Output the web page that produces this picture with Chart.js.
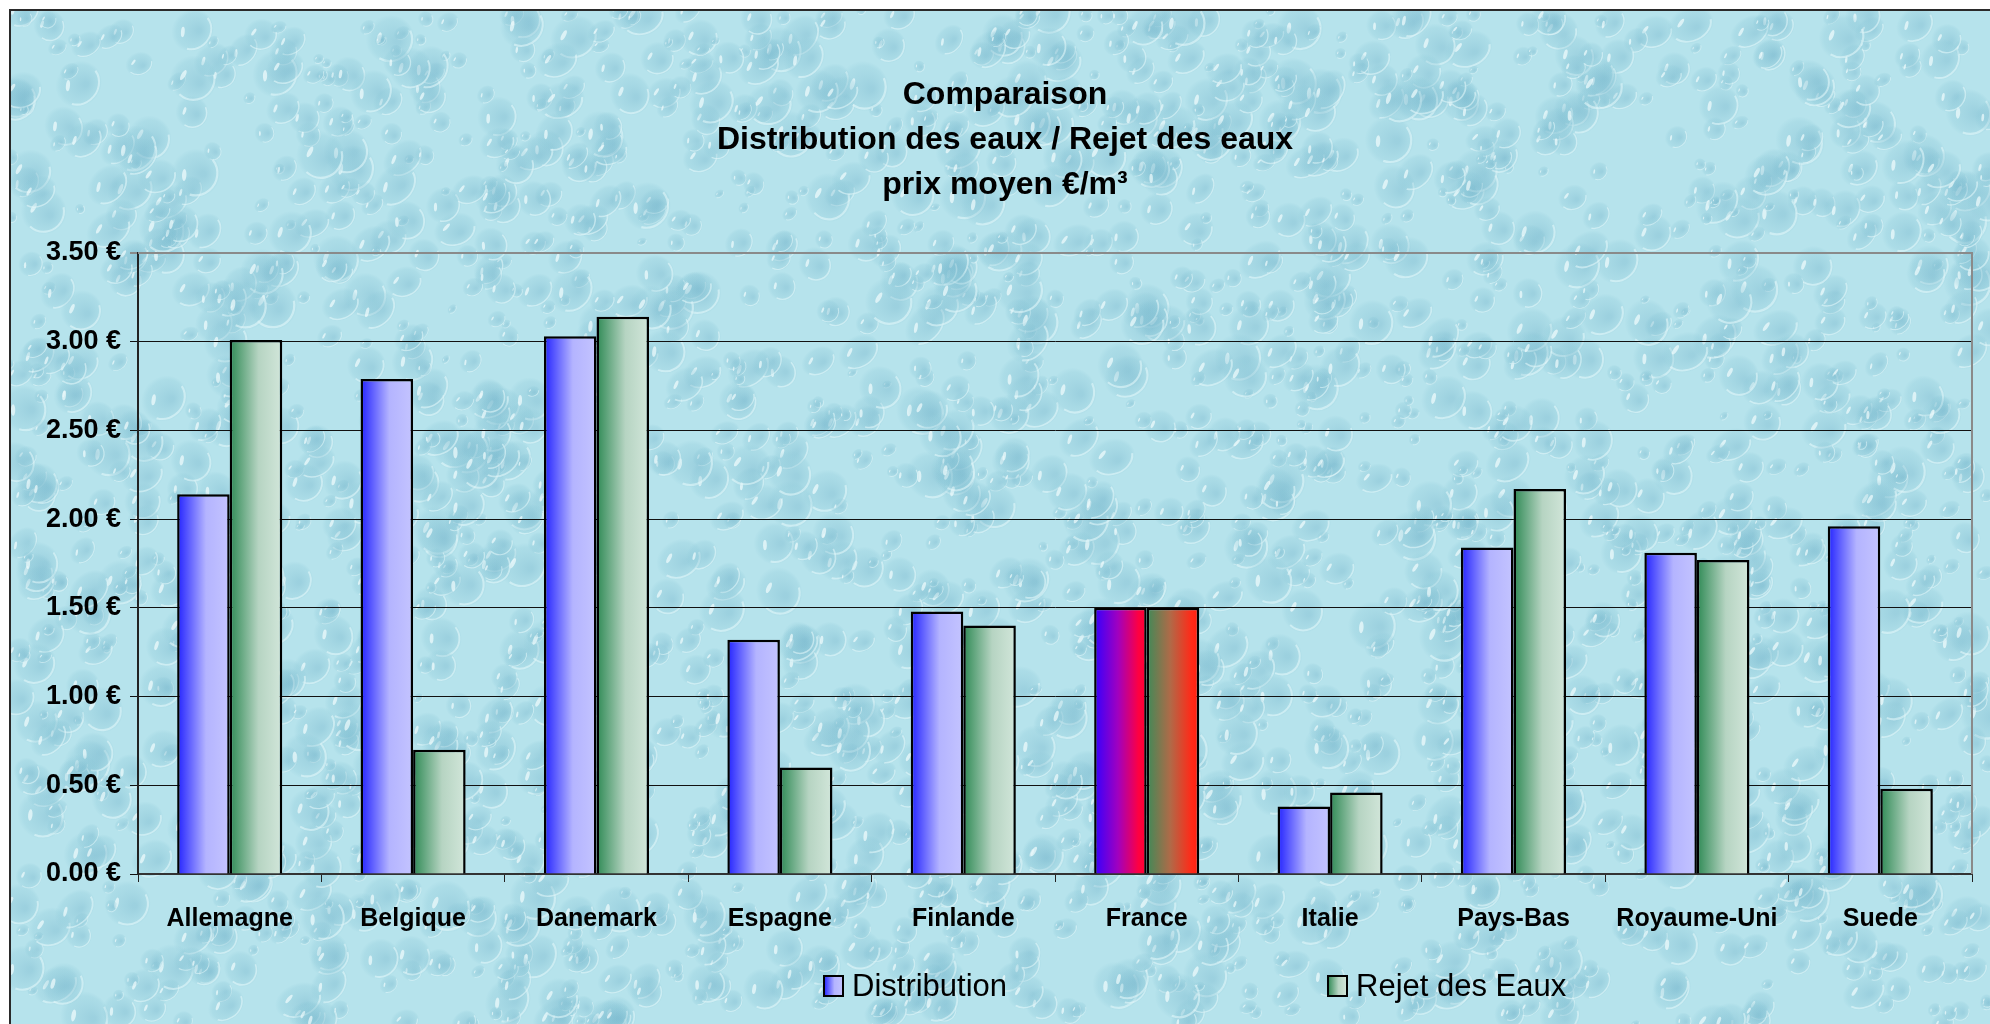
<!DOCTYPE html>
<html>
<head>
<meta charset="utf-8">
<script src="https://cdn.jsdelivr.net/npm/chart.js@4.4.1/dist/chart.umd.min.js"></script>
<style>
  html, body { margin: 0; padding: 0; background: #ffffff; }
  #wrap { position: relative; width: 1990px; height: 1024px; }
</style>
</head>
<body>
<div id="wrap"><canvas id="c" width="1990" height="1024"></canvas></div>
<script>
// ---- data ----
const categories = ['Allemagne', 'Belgique', 'Danemark', 'Espagne', 'Finlande', 'France', 'Italie', 'Pays-Bas', 'Royaume-Uni', 'Suede'];
const distribution = [2.14, 2.79, 3.03, 1.32, 1.48, 1.50, 0.38, 1.84, 1.81, 1.96];
const rejet = [3.01, 0.70, 3.14, 0.60, 1.40, 1.50, 0.46, 2.17, 1.77, 0.48];
const seriesNames = ['Distribution', 'Rejet des Eaux'];
const yTickLabels = ['0.00 €', '0.50 €', '1.00 €', '1.50 €', '2.00 €', '2.50 €', '3.00 €', '3.50 €'];
const titleLines = ['Comparaison', 'Distribution des eaux / Rejet des eaux', 'prix moyen €/m³'];
const highlightCategory = 'France';

// ---- styles ----
const CAT_PCT = 0.573;
const FONT = "'Liberation Sans', Arial, sans-serif";
const gradStops = [
  [[0, '#2323ff'], [0.55, '#b4b4ff'], [1, '#c4c4ff']],
  [[0, '#2f8a55'], [0.55, '#b6d4c2'], [1, '#d2e6da']]
];
const highlightStops = [
  [[0, '#3300ff'], [0.45, '#a000c0'], [0.85, '#ff0040'], [1, '#ff0030']],
  [[0, '#3f8a58'], [0.45, '#b06a48'], [0.85, '#ff2a18'], [1, '#ff2010']]
];

function barFill(ctx) {
  const chart = ctx.chart;
  const xs = chart.scales.x;
  const di = ctx.datasetIndex;
  let stops = gradStops[di];
  if (ctx.dataIndex !== undefined && categories[ctx.dataIndex] === highlightCategory) stops = highlightStops[di];
  if (!xs || ctx.dataIndex === undefined || !isFinite(xs.width)) return stops[1][1];
  const center = xs.getPixelForValue(ctx.dataIndex);
  const catW = xs.width / categories.length;
  const bw = catW * CAT_PCT / 2;
  const x0 = di === 0 ? center - bw : center;
  const g = chart.ctx.createLinearGradient(x0, 0, x0 + bw, 0);
  stops.forEach(s => g.addColorStop(s[0], s[1]));
  return g;
}

// deterministic texture generator (decoration only)
function lcg(seed) { let s = seed; return () => { s = (s * 1664525 + 1013904223) % 4294967296; return s / 4294967296; }; }

const backgroundPlugin = {
  id: 'waterBackground',
  beforeDraw(chart) {
    const ctx = chart.ctx;
    const W = chart.width, H = chart.height;
    ctx.save();
    ctx.fillStyle = '#ffffff';
    ctx.fillRect(0, 0, W, H);
    ctx.beginPath();
    ctx.rect(9, 9, W - 9, H - 9);
    ctx.clip();
    ctx.fillStyle = '#b6e3ec';
    ctx.fillRect(9, 9, W - 9, H - 9);
    const rnd = lcg(12345);
    for (let i = 0; i < 2600; i++) {
      const x = 9 + rnd() * (W - 9);
      const y = 9 + rnd() * (H - 9);
      const r = 5 + rnd() * 20;
      const rot = -0.9 + rnd() * 0.6;
      ctx.save();
      ctx.translate(x, y);
      ctx.rotate(rot);
      ctx.scale(1, 0.7 + rnd() * 0.4);
      const g = ctx.createRadialGradient(r * 0.2, r * 0.25, r * 0.1, 0, 0, r);
      g.addColorStop(0, 'rgba(118,182,204,0.40)');
      g.addColorStop(0.8, 'rgba(140,200,216,0.25)');
      g.addColorStop(1, 'rgba(140,200,216,0)');
      ctx.fillStyle = g;
      ctx.beginPath();
      ctx.arc(0, 0, r, 0, Math.PI * 2);
      ctx.fill();
      ctx.strokeStyle = 'rgba(232,250,252,0.55)';
      ctx.lineWidth = Math.max(1, r * 0.09);
      ctx.beginPath();
      ctx.arc(0, 0, r * 0.88, Math.PI * 0.05, Math.PI * 0.85);
      ctx.stroke();
      ctx.fillStyle = 'rgba(248,255,255,0.65)';
      ctx.beginPath();
      ctx.ellipse(-r * 0.35, -r * 0.3, r * 0.24, r * 0.09, -0.7, 0, Math.PI * 2);
      ctx.fill();
      ctx.restore();
    }
    ctx.restore();
    ctx.save();
    ctx.strokeStyle = '#2a2a2a';
    ctx.lineWidth = 2;
    ctx.beginPath();
    ctx.moveTo(10, H); ctx.lineTo(10, 10); ctx.lineTo(W, 10);
    ctx.stroke();
    ctx.restore();
  }
};

const frameAndLegendPlugin = {
  id: 'frameAndLegend',
  beforeDatasetsDraw(chart) {
    const a = chart.chartArea, ctx = chart.ctx;
    ctx.save();
    ctx.strokeStyle = '#8a8a8a';
    ctx.lineWidth = 2;
    ctx.beginPath();
    ctx.moveTo(a.left, a.top); ctx.lineTo(a.right, a.top); ctx.lineTo(a.right, a.bottom);
    ctx.stroke();
    ctx.restore();
  },
  afterDraw(chart) {
    const ctx = chart.ctx;
    const items = [
      { box: 824, text: 852 },
      { box: 1328, text: 1356 }
    ];
    const yMid = 986;
    ctx.save();
    items.forEach((it, i) => {
      const g = ctx.createLinearGradient(it.box, 0, it.box + 19, 0);
      gradStops[i].forEach(s => g.addColorStop(s[0], s[1]));
      ctx.fillStyle = g;
      ctx.fillRect(it.box, yMid - 10, 19, 20);
      ctx.strokeStyle = '#000';
      ctx.lineWidth = 2;
      ctx.strokeRect(it.box, yMid - 10, 19, 20);
      ctx.fillStyle = '#000';
      ctx.font = '31px ' + FONT;
      ctx.textBaseline = 'middle';
      ctx.textAlign = 'left';
      ctx.fillText(seriesNames[i], it.text, yMid + 1);
    });
    ctx.restore();
  }
};

new Chart(document.getElementById('c'), {
  type: 'bar',
  data: {
    labels: categories,
    datasets: [
      { label: seriesNames[0], data: distribution, backgroundColor: barFill, borderColor: '#000', borderWidth: 2.5, borderSkipped: 'bottom', categoryPercentage: CAT_PCT, barPercentage: 1.0 },
      { label: seriesNames[1], data: rejet, backgroundColor: barFill, borderColor: '#000', borderWidth: 2.5, borderSkipped: 'bottom', categoryPercentage: CAT_PCT, barPercentage: 1.0 }
    ]
  },
  options: {
    responsive: false,
    animation: false,
    devicePixelRatio: 1,
    layout: { padding: { left: 38, right: 18, top: 0, bottom: 90 } },
    plugins: {
      legend: { display: false },
      tooltip: { enabled: false },
      title: {
        display: true,
        text: titleLines,
        color: '#000',
        font: { family: FONT, size: 32, weight: 'bold', lineHeight: 1.406 },
        padding: { top: 73, bottom: 45 }
      }
    },
    scales: {
      x: {
        offset: true,
        grid: { display: true, drawOnChartArea: false, drawTicks: true, tickLength: 8, color: '#222', lineWidth: 1, offset: true },
        border: { display: true, color: '#333', width: 2 },
        ticks: { color: '#000', font: { family: FONT, size: 25, weight: 'bold' }, padding: 22, maxRotation: 0, autoSkip: false },
        afterFit(s) { s.height = 60; }
      },
      y: {
        min: 0,
        max: 3.5,
        ticks: {
          stepSize: 0.5,
          color: '#000',
          font: { family: FONT, size: 27, weight: 'bold' },
          padding: 9,
          callback: (v, i) => yTickLabels[i]
        },
        grid: {
          color: (c) => (c.tick && c.tick.value === 3.5 ? '#8a8a8a' : '#111'),
          lineWidth: (c) => (c.tick && c.tick.value === 3.5 ? 2 : 1),
          tickLength: 8,
          drawTicks: true
        },
        border: { display: true, color: '#222', width: 2 },
        afterFit(s) { s.width = 100; }
      }
    }
  },
  plugins: [backgroundPlugin, frameAndLegendPlugin]
});
</script>
</body>
</html>
